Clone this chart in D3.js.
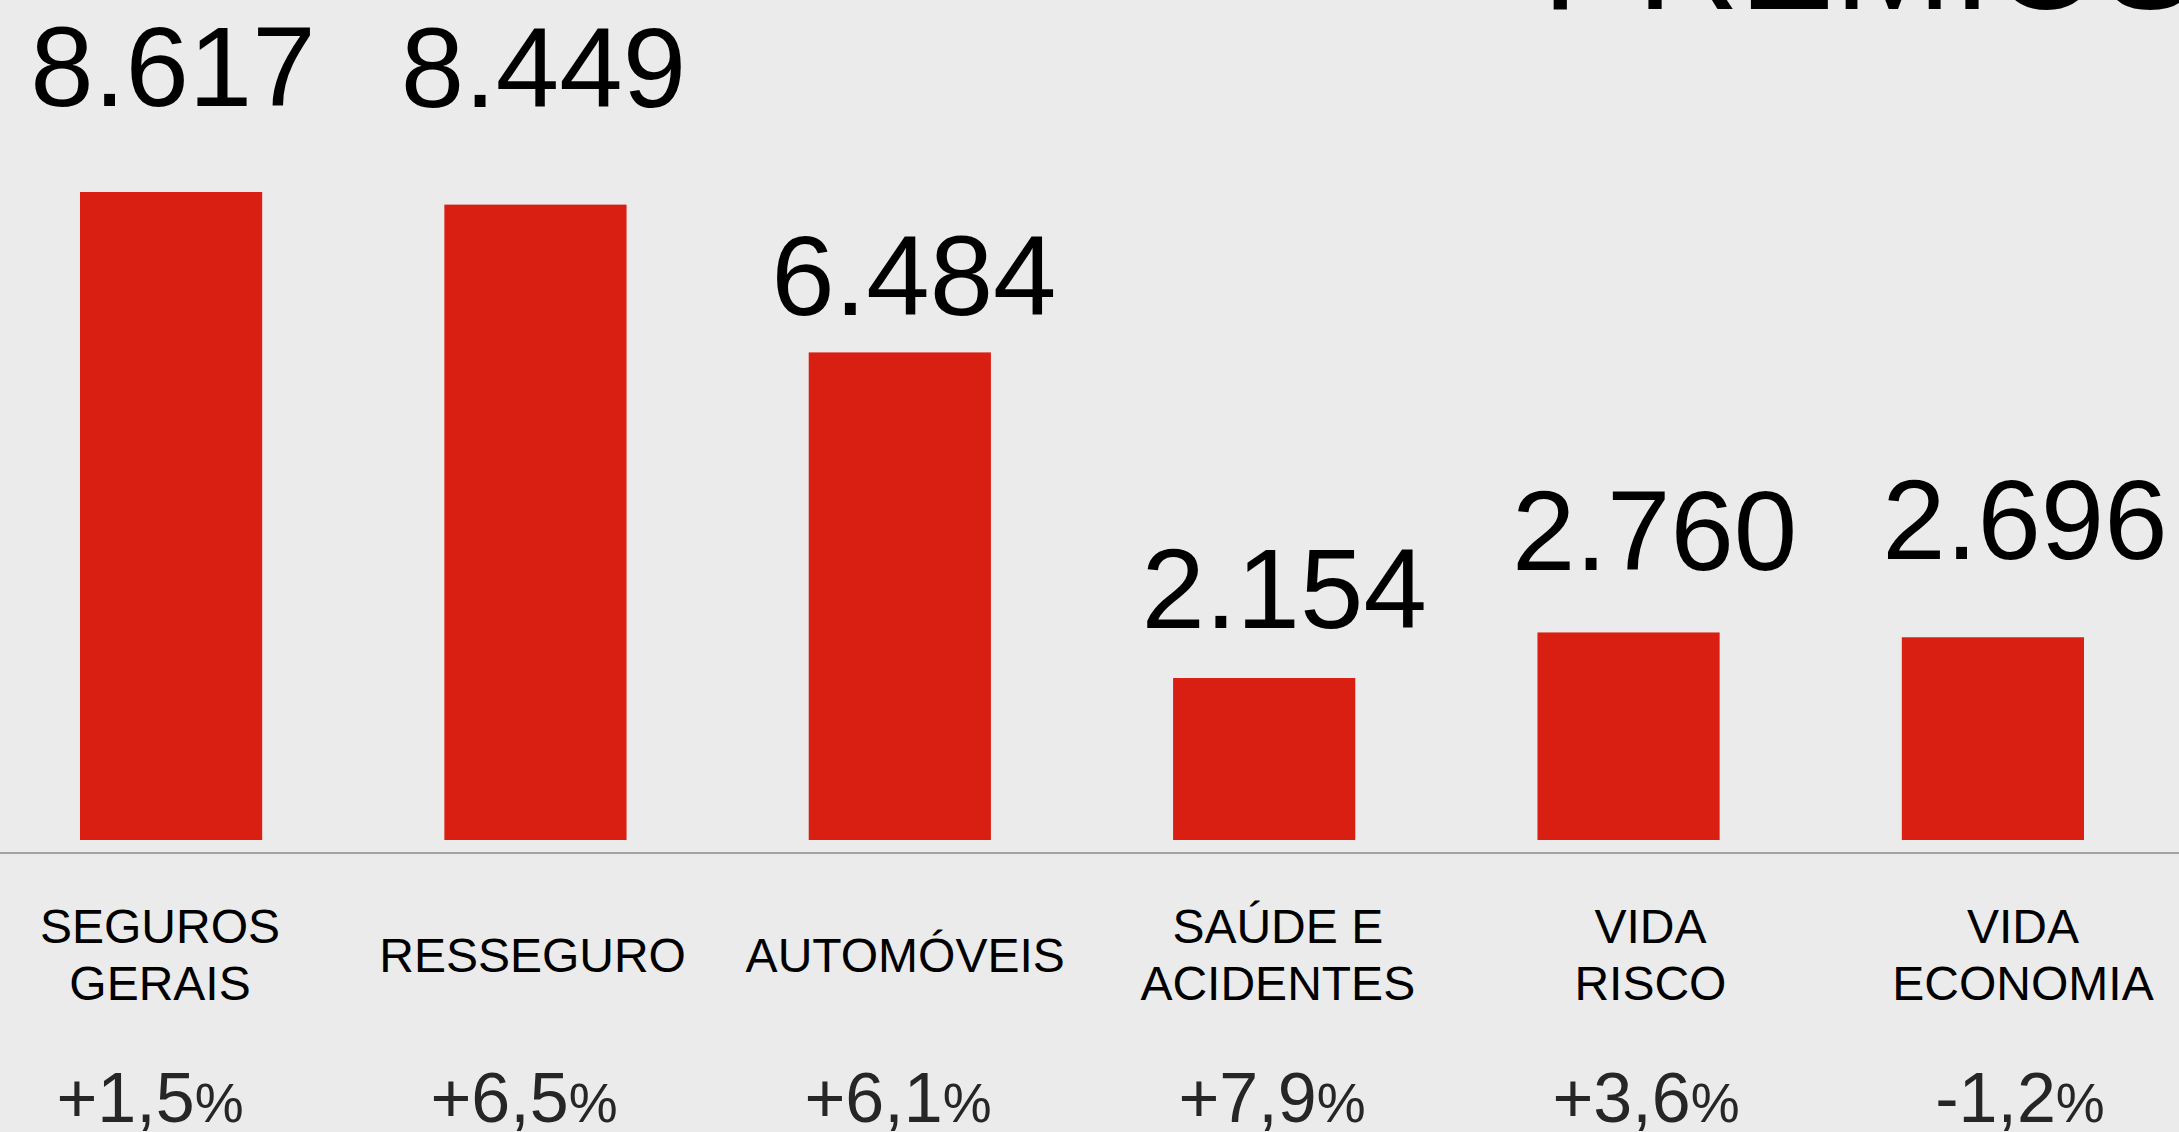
<!DOCTYPE html>
<html>
<head>
<meta charset="utf-8">
<script src="https://cdn.jsdelivr.net/npm/d3@7"></script>
<style>
  html, body { margin: 0; padding: 0; background: #ebebeb; overflow: hidden; }
</style>
</head>
<body>
<div id="chart"></div>
<script>
// data
var categories = ["SEGUROS GERAIS", "RESSEGURO", "AUTOMÓVEIS", "SAÚDE E ACIDENTES", "VIDA RISCO", "VIDA ECONOMIA"];
var categoryLines = [["SEGUROS", "GERAIS"], ["RESSEGURO"], ["AUTOMÓVEIS"], ["SAÚDE E", "ACIDENTES"], ["VIDA", "RISCO"], ["VIDA", "ECONOMIA"]];
var premios = [8617, 8449, 6484, 2154, 2760, 2696];
var variacao = ["+1,5", "+6,5", "+6,1", "+7,9", "+3,6", "-1,2"];
var title = "PRÉMIOS";

// label lift above each bar top (layout, not data)
var labelGap = [86, 98, 37, 50, 62, 78];

var W = 2179, H = 1132;
var font = "'Liberation Sans', Arial, sans-serif";

var svg = d3.select("#chart")
    .append("svg")
    .attr("width", W)
    .attr("height", H)
    .style("background", "#ebebeb");

// scales
var x = d3.scaleBand()
    .domain(categories)
    .range([80, 2084])
    .paddingInner(0.5)
    .paddingOuter(0);

var y = d3.scaleLinear()
    .domain([0, d3.max(premios)])
    .range([840, 192]);

// text sits on a slightly wider grid than the bars
var xValue = d3.scalePoint().domain(categories).range([173, 2025]);
var xLabel = d3.scalePoint().domain(categories).range([160, 2023]);
var xPct = d3.scalePoint().domain(categories).range([150, 2020]);

var pt = d3.formatLocale({decimal: ",", thousands: ".", grouping: [3], currency: ["", "€"]});
var fmt = pt.format(",");

var rows = categories.map(function(c, i) {
    return {cat: c, v: premios[i], lines: categoryLines[i], pct: variacao[i], gap: labelGap[i]};
});

// title, cut by the top edge
svg.append("text")
    .attr("x", 1542)
    .attr("y", 9)
    .style("font-family", font)
    .style("font-size", "142px")
    .attr("fill", "#000")
    .text(title);

// bars
svg.selectAll("rect.bar")
    .data(rows)
    .enter()
    .append("rect")
    .attr("class", "bar")
    .attr("x", function(d) { return x(d.cat); })
    .attr("y", function(d) { return y(d.v); })
    .attr("width", x.bandwidth())
    .attr("height", function(d) { return y(0) - y(d.v); })
    .attr("fill", "#d91f11");

// baseline
svg.append("line")
    .attr("x1", 0)
    .attr("x2", W)
    .attr("y1", 853)
    .attr("y2", 853)
    .attr("stroke", "#a2a2a2")
    .attr("stroke-width", 2);

// values
svg.selectAll("text.value")
    .data(rows)
    .enter()
    .append("text")
    .attr("class", "value")
    .attr("x", function(d) { return xValue(d.cat); })
    .attr("y", function(d) { return y(d.v) - d.gap; })
    .attr("text-anchor", "middle")
    .style("font-family", font)
    .style("font-size", "114px")
    .attr("fill", "#000")
    .text(function(d) { return fmt(d.v); });

// category labels
var lab = svg.selectAll("text.cat")
    .data(rows)
    .enter()
    .append("text")
    .attr("class", "cat")
    .attr("text-anchor", "middle")
    .style("font-family", font)
    .style("font-size", "48px")
    .attr("fill", "#000")
    .attr("y", function(d) { return d.lines.length > 1 ? 943 : 972; });

lab.selectAll("tspan")
    .data(function(d) { return d.lines.map(function(l) { return {cat: d.cat, t: l}; }); })
    .enter()
    .append("tspan")
    .attr("x", function(d) { return xLabel(d.cat); })
    .attr("dy", function(d, i) { return i === 0 ? 0 : 57; })
    .text(function(d) { return d.t; });

// growth
var pctText = svg.selectAll("text.pct")
    .data(rows)
    .enter()
    .append("text")
    .attr("class", "pct")
    .attr("x", function(d) { return xPct(d.cat); })
    .attr("y", 1122)
    .attr("text-anchor", "middle")
    .style("font-family", font)
    .style("font-size", "70px")
    .attr("fill", "#262626");

pctText.append("tspan").text(function(d) { return d.pct; });
pctText.append("tspan").style("font-size", "55px").text("%");
</script>
</body>
</html>
